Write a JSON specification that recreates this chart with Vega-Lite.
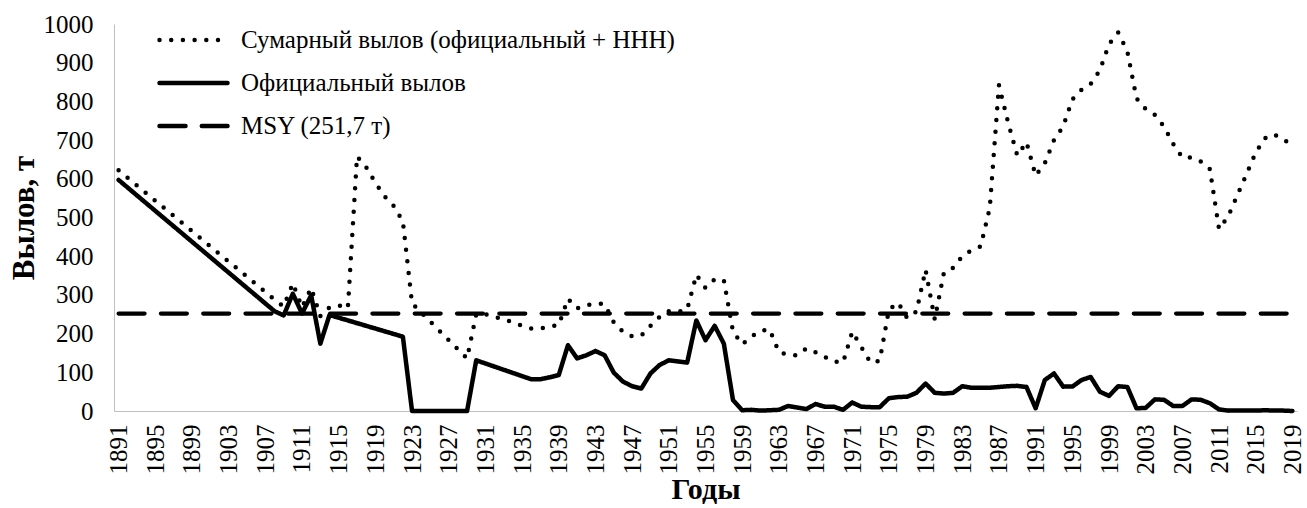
{
  "$schema": "https://vega.github.io/schema/vega-lite/v6.json",
  "width": 1183,
  "height": 387,
  "autosize": {"type": "none"},
  "padding": {"left": 114, "top": 24, "right": 10, "bottom": 97},
  "background": "white",
  "config": {
    "font": "Liberation Serif",
    "view": {"stroke": null},
    "axis": {"grid": false, "ticks": false, "domainColor": "#bfbfbf", "domainWidth": 1, "labelColor": "black", "titleColor": "black", "labelFont": "Liberation Serif", "titleFont": "Liberation Serif"}
  },
  "encoding": {
    "x": {
      "field": "year", "type": "quantitative",
      "scale": {"domain": [1890.5, 2019.5], "nice": false, "zero": false},
      "axis": {
        "values": [1891,1895,1899,1903,1907,1911,1915,1919,1923,1927,1931,1935,1939,1943,1947,1951,1955,1959,1963,1967,1971,1975,1979,1983,1987,1991,1995,1999,2003,2007,2011,2015,2019],
        "format": "d", "labelAngle": -90, "labelFontSize": 25, "labelPadding": 13,
        "labelOverlap": false, "labelFlush": false,
        "title": "Годы", "titleFontSize": 30, "titleFontWeight": "bold", "titlePadding": 0
      }
    },
    "y": {
      "field": "v", "type": "quantitative",
      "scale": {"domain": [0, 1000], "nice": false},
      "axis": {
        "values": [0,100,200,300,400,500,600,700,800,900,1000],
        "format": "d",
        "labelFontSize": 25, "labelPadding": 21,
        "title": "Вылов, т", "titleFontSize": 31, "titleFontWeight": "bold", "titlePadding": 3
      }
    }
  },
  "layer": [
    {
      "data": {"values": [{"year": 1891, "v": 251.7}, {"year": 2019, "v": 251.7}]},
      "mark": {"type": "line", "color": "black", "strokeWidth": 4.2, "strokeCap": "round"},
      "encoding": {
        "strokeDash": {
          "datum": "MSY (251,7 т)", "type": "nominal",
          "scale": {"domain": ["Сумарный вылов (официальный + ННН)", "Официальный вылов", "MSY (251,7 т)"], "range": [[0, 11.7], [1, 0], [26, 16.3]]},
          "legend": {"title": null, "orient": "none", "legendX": 43, "legendY": 1, "symbolType": "stroke", "symbolSize": 4624, "symbolStrokeWidth": 4.5, "symbolStrokeColor": "black", "clipHeight": 30, "rowPadding": 13, "labelFontSize": 25, "labelOffset": 11, "labelColor": "black", "labelLimit": 800, "padding": 0, "encode": {"symbols": {"update": {"strokeCap": {"value": "round"}}}}}
        }
      }
    },
    {
      "data": {"values": [
        {"year": 1891, "v": 597}, {"year": 1908, "v": 258}, {"year": 1909, "v": 247}, {"year": 1910, "v": 303},
        {"year": 1911, "v": 252}, {"year": 1912, "v": 299}, {"year": 1913, "v": 174}, {"year": 1914, "v": 248},
        {"year": 1922, "v": 192}, {"year": 1923, "v": 0}, {"year": 1929, "v": 0}, {"year": 1930, "v": 131},
        {"year": 1936, "v": 82}, {"year": 1937, "v": 82}, {"year": 1938, "v": 87}, {"year": 1939, "v": 93},
        {"year": 1940, "v": 170}, {"year": 1941, "v": 136}, {"year": 1942, "v": 144}, {"year": 1943, "v": 155},
        {"year": 1944, "v": 144}, {"year": 1945, "v": 99}, {"year": 1946, "v": 76}, {"year": 1947, "v": 64},
        {"year": 1948, "v": 58}, {"year": 1949, "v": 97}, {"year": 1950, "v": 119}, {"year": 1951, "v": 131},
        {"year": 1952, "v": 128}, {"year": 1953, "v": 125}, {"year": 1954, "v": 234}, {"year": 1955, "v": 183},
        {"year": 1956, "v": 220}, {"year": 1957, "v": 174}, {"year": 1958, "v": 28}, {"year": 1959, "v": 2},
        {"year": 1960, "v": 3}, {"year": 1961, "v": 1}, {"year": 1962, "v": 2}, {"year": 1963, "v": 3},
        {"year": 1964, "v": 13}, {"year": 1965, "v": 9}, {"year": 1966, "v": 5}, {"year": 1967, "v": 18},
        {"year": 1968, "v": 11}, {"year": 1969, "v": 11}, {"year": 1970, "v": 3}, {"year": 1971, "v": 22},
        {"year": 1972, "v": 11}, {"year": 1973, "v": 10}, {"year": 1974, "v": 10}, {"year": 1975, "v": 33},
        {"year": 1976, "v": 36}, {"year": 1977, "v": 37}, {"year": 1978, "v": 47}, {"year": 1979, "v": 71},
        {"year": 1980, "v": 47}, {"year": 1981, "v": 45}, {"year": 1982, "v": 47}, {"year": 1983, "v": 64},
        {"year": 1984, "v": 60}, {"year": 1985, "v": 60}, {"year": 1986, "v": 60}, {"year": 1987, "v": 62},
        {"year": 1988, "v": 64}, {"year": 1989, "v": 65}, {"year": 1990, "v": 62}, {"year": 1991, "v": 7},
        {"year": 1992, "v": 80}, {"year": 1993, "v": 97}, {"year": 1994, "v": 63}, {"year": 1995, "v": 63},
        {"year": 1996, "v": 80}, {"year": 1997, "v": 88}, {"year": 1998, "v": 50}, {"year": 1999, "v": 39},
        {"year": 2000, "v": 64}, {"year": 2001, "v": 62}, {"year": 2002, "v": 7}, {"year": 2003, "v": 8},
        {"year": 2004, "v": 30}, {"year": 2005, "v": 29}, {"year": 2006, "v": 13}, {"year": 2007, "v": 13},
        {"year": 2008, "v": 30}, {"year": 2009, "v": 29}, {"year": 2010, "v": 20}, {"year": 2011, "v": 4},
        {"year": 2012, "v": 1}, {"year": 2013, "v": 1}, {"year": 2014, "v": 1}, {"year": 2015, "v": 1},
        {"year": 2016, "v": 2}, {"year": 2017, "v": 1}, {"year": 2018, "v": 1}, {"year": 2019, "v": 0}
      ]},
      "mark": {"type": "line", "color": "black", "strokeWidth": 4.5, "strokeCap": "round", "strokeJoin": "round"},
      "encoding": {
        "strokeDash": {
          "datum": "Официальный вылов", "type": "nominal",
          "scale": {"domain": ["Сумарный вылов (официальный + ННН)", "Официальный вылов", "MSY (251,7 т)"], "range": [[0, 11.7], [1, 0], [26, 16.3]]},
          "legend": {"title": null, "orient": "none", "legendX": 43, "legendY": 1, "symbolType": "stroke", "symbolSize": 4624, "symbolStrokeWidth": 4.5, "symbolStrokeColor": "black", "clipHeight": 30, "rowPadding": 13, "labelFontSize": 25, "labelOffset": 11, "labelColor": "black", "labelLimit": 800, "padding": 0, "encode": {"symbols": {"update": {"strokeCap": {"value": "round"}}}}}
        }
      }
    },
    {
      "data": {"values": [
        {"year": 1891, "v": 622}, {"year": 1908, "v": 288}, {"year": 1909, "v": 270}, {"year": 1910, "v": 330},
        {"year": 1911, "v": 268}, {"year": 1912, "v": 318}, {"year": 1913, "v": 245}, {"year": 1914, "v": 268},
        {"year": 1915, "v": 273}, {"year": 1916, "v": 265}, {"year": 1917, "v": 658}, {"year": 1918, "v": 630},
        {"year": 1919, "v": 590}, {"year": 1920, "v": 555}, {"year": 1921, "v": 530}, {"year": 1922, "v": 490},
        {"year": 1923, "v": 278}, {"year": 1929, "v": 136}, {"year": 1930, "v": 250}, {"year": 1931, "v": 250},
        {"year": 1932, "v": 243}, {"year": 1933, "v": 237}, {"year": 1934, "v": 229}, {"year": 1935, "v": 220},
        {"year": 1936, "v": 213}, {"year": 1937, "v": 213}, {"year": 1938, "v": 218}, {"year": 1939, "v": 222},
        {"year": 1940, "v": 290}, {"year": 1941, "v": 265}, {"year": 1942, "v": 273}, {"year": 1943, "v": 278},
        {"year": 1944, "v": 276}, {"year": 1945, "v": 229}, {"year": 1946, "v": 205}, {"year": 1947, "v": 193},
        {"year": 1948, "v": 195}, {"year": 1949, "v": 220}, {"year": 1950, "v": 243}, {"year": 1951, "v": 258},
        {"year": 1952, "v": 256}, {"year": 1953, "v": 262}, {"year": 1954, "v": 352}, {"year": 1955, "v": 318},
        {"year": 1956, "v": 340}, {"year": 1957, "v": 338}, {"year": 1958, "v": 205}, {"year": 1959, "v": 172},
        {"year": 1960, "v": 192}, {"year": 1961, "v": 207}, {"year": 1962, "v": 211}, {"year": 1963, "v": 152},
        {"year": 1964, "v": 145}, {"year": 1965, "v": 144}, {"year": 1966, "v": 162}, {"year": 1967, "v": 152},
        {"year": 1968, "v": 140}, {"year": 1969, "v": 128}, {"year": 1970, "v": 125}, {"year": 1971, "v": 205},
        {"year": 1972, "v": 165}, {"year": 1973, "v": 125}, {"year": 1974, "v": 130}, {"year": 1975, "v": 262},
        {"year": 1976, "v": 280}, {"year": 1977, "v": 240}, {"year": 1978, "v": 257}, {"year": 1979, "v": 365},
        {"year": 1980, "v": 237}, {"year": 1981, "v": 358}, {"year": 1982, "v": 370}, {"year": 1983, "v": 400},
        {"year": 1984, "v": 415}, {"year": 1985, "v": 425}, {"year": 1986, "v": 525}, {"year": 1987, "v": 842},
        {"year": 1988, "v": 745}, {"year": 1989, "v": 660}, {"year": 1990, "v": 695}, {"year": 1991, "v": 608},
        {"year": 1992, "v": 640}, {"year": 1993, "v": 700}, {"year": 1994, "v": 735}, {"year": 1995, "v": 805},
        {"year": 1996, "v": 830}, {"year": 1997, "v": 845}, {"year": 1998, "v": 880}, {"year": 1999, "v": 948},
        {"year": 2000, "v": 978}, {"year": 2001, "v": 929}, {"year": 2002, "v": 808}, {"year": 2003, "v": 780},
        {"year": 2004, "v": 765}, {"year": 2005, "v": 735}, {"year": 2006, "v": 690}, {"year": 2007, "v": 655},
        {"year": 2008, "v": 655}, {"year": 2009, "v": 645}, {"year": 2010, "v": 625}, {"year": 2011, "v": 470},
        {"year": 2012, "v": 503}, {"year": 2013, "v": 558}, {"year": 2014, "v": 612}, {"year": 2015, "v": 668},
        {"year": 2016, "v": 705}, {"year": 2017, "v": 715}, {"year": 2018, "v": 700}, {"year": 2019, "v": 690}
      ]},
      "mark": {"type": "line", "color": "black", "strokeWidth": 4.5, "strokeCap": "round", "strokeJoin": "round"},
      "encoding": {
        "strokeDash": {
          "datum": "Сумарный вылов (официальный + ННН)", "type": "nominal",
          "scale": {"domain": ["Сумарный вылов (официальный + ННН)", "Официальный вылов", "MSY (251,7 т)"], "range": [[0, 11.7], [1, 0], [26, 16.3]]},
          "legend": {"title": null, "orient": "none", "legendX": 43, "legendY": 1, "symbolType": "stroke", "symbolSize": 4624, "symbolStrokeWidth": 4.5, "symbolStrokeColor": "black", "clipHeight": 30, "rowPadding": 13, "labelFontSize": 25, "labelOffset": 11, "labelColor": "black", "labelLimit": 800, "padding": 0, "encode": {"symbols": {"update": {"strokeCap": {"value": "round"}}}}}
        }
      }
    }
  ]
}
